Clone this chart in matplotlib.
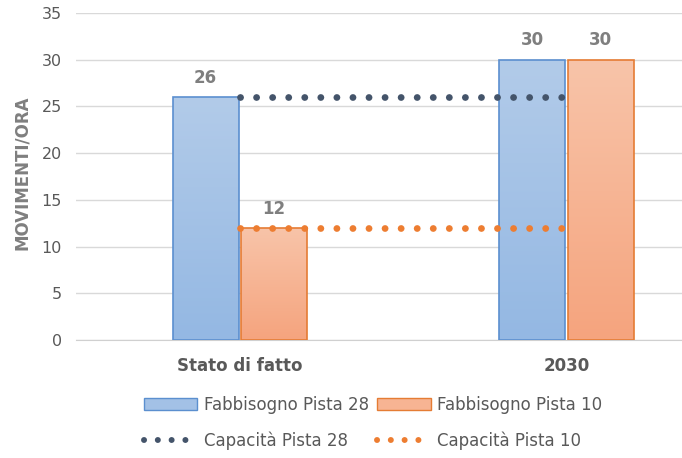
import numpy as np
import matplotlib.pyplot as plt
from matplotlib.patches import Patch
from matplotlib.lines import Line2D
from matplotlib.colors import LinearSegmentedColormap

categories = ["Stato di fatto", "2030"]
fabb_28 = [26, 30]
fabb_10 = [12, 30]
cap_28 = [26, 26]
cap_10 = [12, 12]

blue_grad = ["#94b8e3", "#b2cbe9"]   # bottom, top
orange_grad = ["#f5a47e", "#f8c4a9"]
blue_edge = "#5b8fcf"
orange_edge = "#e57c34"
dot_blue = "#44546a"
dot_orange = "#ed7d31"
txt = "#595959"

plt.rcParams["font.family"] = "DejaVu Sans"

fig = plt.figure(figsize=(6.82, 4.58), dpi=100)
ax = fig.add_axes([0.1114, 0.2576, 0.8886, 0.714])

x = np.arange(len(categories))
w = 0.202


def gradient_bar(ax, xc, h, colors, edge):
    bars = ax.bar(xc, h, width=w, color="none", edgecolor=edge, linewidth=1.2, zorder=3)
    cmap = LinearSegmentedColormap.from_list("g", colors)
    for b in bars:
        x0, y0 = b.get_x(), b.get_y()
        im = ax.imshow(np.linspace(0, 1, 100).reshape(-1, 1), cmap=cmap, origin="lower",
                       extent=[x0, x0 + b.get_width(), y0, y0 + b.get_height()],
                       aspect="auto", zorder=2)
        im.set_clip_path(b)
    return bars


b1 = gradient_bar(ax, x - w / 2 - 0.004, fabb_28, blue_grad, blue_edge)
b2 = gradient_bar(ax, x + w / 2 + 0.004, fabb_10, orange_grad, orange_edge)

dots = (0, (0.01, 2.35))
ax.plot(x, cap_28, color=dot_blue, lw=4.9, linestyle=dots, dash_capstyle="round", zorder=4)
ax.plot(x, cap_10, color=dot_orange, lw=4.9, linestyle=dots, dash_capstyle="round", zorder=4)

for bars, vals in ((b1, fabb_28), (b2, fabb_10)):
    for b, v in zip(bars, vals):
        ax.text(b.get_x() + b.get_width() / 2, v + 1.1, str(v), ha="center", va="bottom",
                fontsize=12, fontweight="bold", color="#7f7f7f")

ax.set_xlim(-0.502, 1.354)
ax.set_ylim(0, 35)
ax.set_yticks(range(0, 36, 5))
ax.yaxis.grid(True, color="#d9d9d9", lw=1)
ax.set_axisbelow(True)
for s in ax.spines.values():
    s.set_visible(False)
ax.spines["bottom"].set_visible(True)
ax.spines["bottom"].set_color("#d0d0d0")
ax.tick_params(axis="y", length=0, pad=10, labelsize=11.5, labelcolor=txt)
ax.tick_params(axis="x", length=0, pad=12)
ax.set_xticks(x)
ax.set_xticklabels(categories, fontsize=12, fontweight="bold", color=txt)
ax.set_ylabel("MOVIMENTI/ORA", fontsize=12, fontweight="bold", color="#7f7f7f")
ax.yaxis.set_label_coords(-0.074, 0.51)

handles = [
    Patch(facecolor="#a3c1e6", edgecolor=blue_edge, label="Fabbisogno Pista 28"),
    Patch(facecolor="#f7b493", edgecolor=orange_edge, label="Fabbisogno Pista 10"),
    Line2D([], [], color=dot_blue, lw=4.3, linestyle=(0, (0.01, 2.3)), dash_capstyle="round", label="Capacità Pista 28"),
    Line2D([], [], color=dot_orange, lw=4.3, linestyle=(0, (0.01, 2.3)), dash_capstyle="round", label="Capacità Pista 10"),
]
order = [0, 2, 1, 3]
fig.legend([handles[i] for i in order], [handles[i].get_label() for i in order],
           ncol=2, loc="center", bbox_to_anchor=(0.547, 0.077), frameon=False,
           fontsize=12, labelcolor=txt, handlelength=3.2, handleheight=0.8,
           columnspacing=0.5, handletextpad=0.4, labelspacing=1.05)

fig.savefig("out.png", dpi=100)
